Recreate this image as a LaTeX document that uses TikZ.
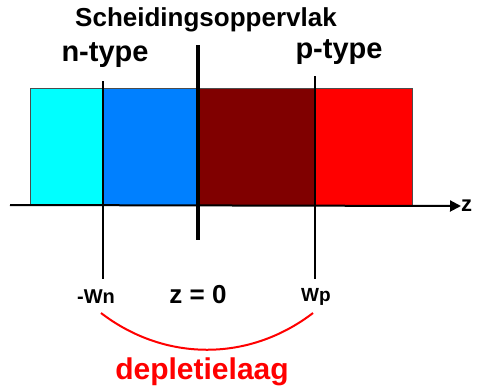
\documentclass[tikz,border=0pt]{standalone}
\usepackage{fontspec}
\setmainfont{Liberation Sans}
\usetikzlibrary{arrows.meta}
\definecolor{ncyan}{RGB}{0,255,255}
\definecolor{nblue}{RGB}{0,128,255}
\definecolor{pdark}{RGB}{128,0,0}
\definecolor{pred}{RGB}{255,0,0}
\tikzset{
  region/.style={draw=black!70, line width=0.8pt},
  marker/.style={draw=black, line width=2pt},
  iface/.style={draw=black, line width=3.5pt},
  lbl/.style={inner sep=0pt, font=\bfseries},
}
\begin{document}
\begin{tikzpicture}[x=1pt, y=-1pt]
\useasboundingbox[fill=white] (0,0) rectangle (478,389);
% semiconductor regions
\fill[ncyan] (30,88) rectangle (103,205);
\fill[nblue] (103,88) rectangle (198,205);
\fill[pdark] (198,88) rectangle (315,205);
\fill[pred] (315,88) rectangle (412,205);
\draw[region] (30,88) rectangle (412,205);
% z axis
\coordinate (axstart) at (10,205);
\node[lbl, font=\bfseries\fontsize{22}{24}\selectfont, anchor=west] (zlab) at (461,206) {z};
\draw[marker, -{Triangle[length=11pt,width=11pt]}] (axstart) -- (zlab.west);
% boundary markers
\coordinate (wntop) at (103,81);
\coordinate (wptop) at (315,76);
\coordinate (iftop) at (198,45);
\coordinate (ifbot) at (198,240);
\node[lbl, font=\bfseries\fontsize{20}{22}\selectfont] (wn) at (96,297) {-Wn};
\node[lbl, font=\bfseries\fontsize{19}{21}\selectfont] (wp) at (316,297) {Wp};
\node[lbl, font=\bfseries\fontsize{26}{28}\selectfont] (z0) at (198,295) {z = 0};
\draw[marker] (wntop) -- (103,279);
\draw[marker] (wptop) -- (315,279);
\draw[iface] (iftop) -- (ifbot);
% labels
\node[lbl, font=\bfseries\fontsize{26}{28}\selectfont] (interface) at (206,20) {Scheidingsoppervlak};
\node[lbl, font=\bfseries\fontsize{29}{31}\selectfont] (ntype) at (105,55) {n-type};
\node[lbl, font=\bfseries\fontsize{29}{31}\selectfont] (ptype) at (339,52) {p-type};
% depletion layer
\coordinate (arcl) at (101,313);
\coordinate (arcr) at (313,313);
\draw[pred, line width=2pt] (arcl) .. controls (165,362) and (249,362) .. (arcr);
\node[lbl, text=pred, font=\bfseries\fontsize{30}{32}\selectfont] (depl) at (202,372) {depletielaag};
\end{tikzpicture}
\end{document}
